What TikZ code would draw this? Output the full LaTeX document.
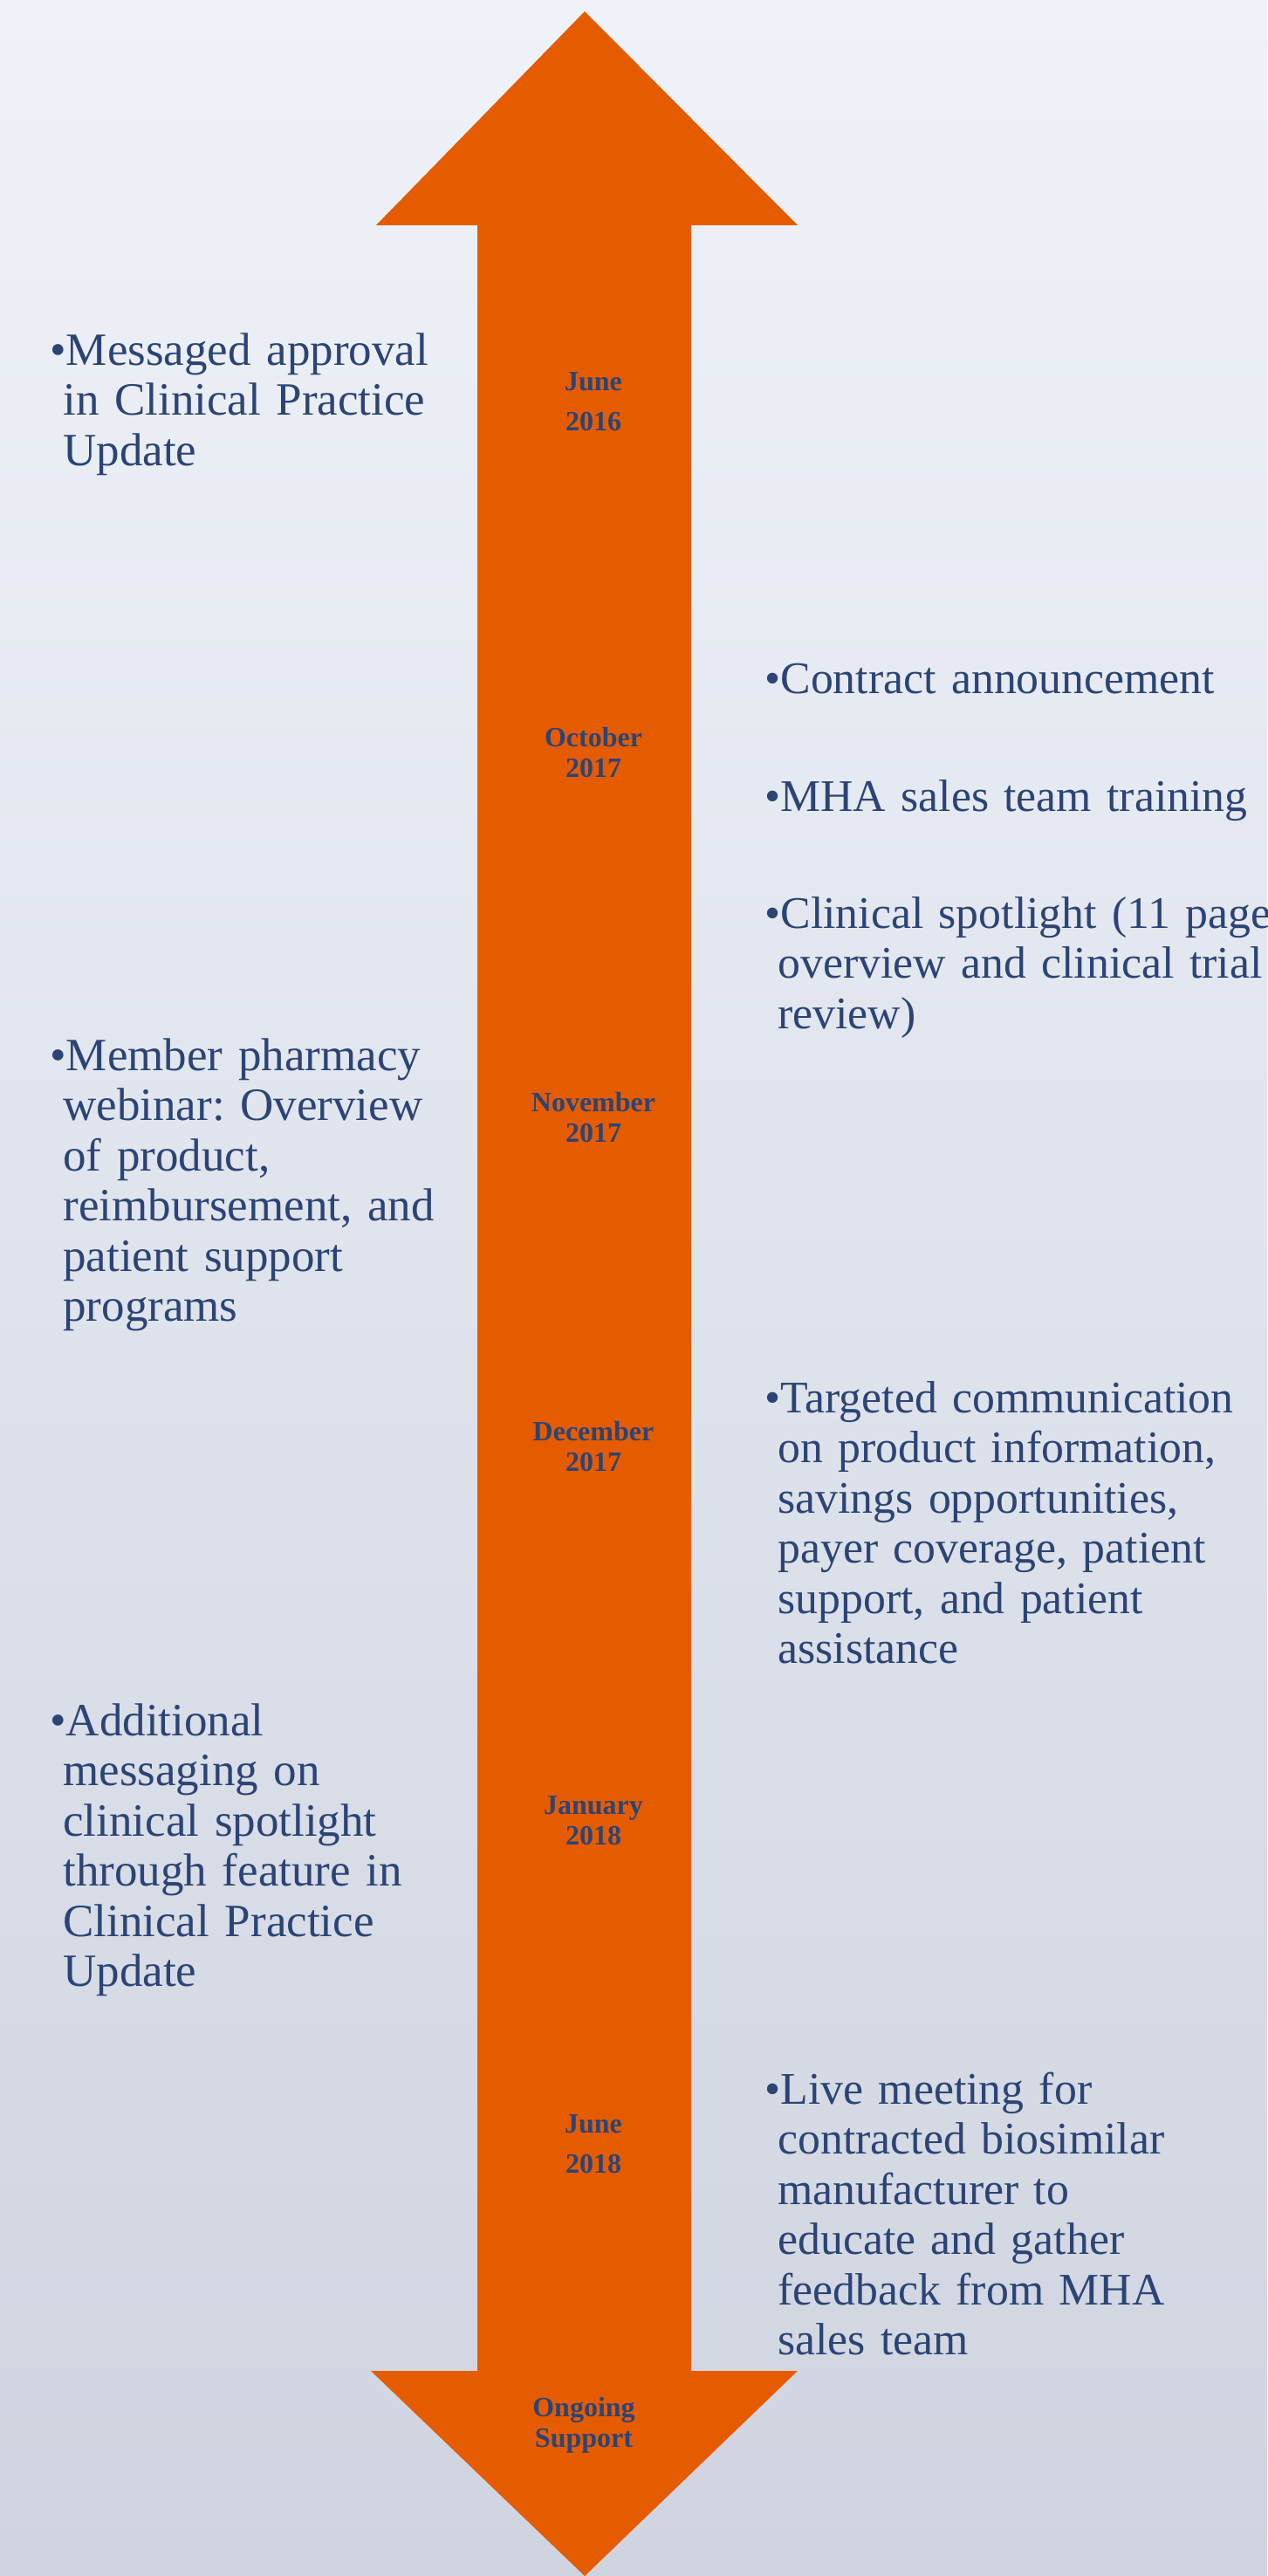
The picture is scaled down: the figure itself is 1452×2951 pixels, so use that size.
\documentclass[tikz,border=0pt]{standalone}
\usepackage{fontspec}
\setmainfont{Liberation Serif}
\definecolor{arroworange}{RGB}{229,92,0}
\definecolor{textblue}{RGB}{44,68,117}
\definecolor{bgtop}{RGB}{239,242,248}
\definecolor{bgbottom}{RGB}{207,212,224}
\tikzset{
  datelbl/.style={text=textblue, font=\bfseries\fontsize{16}{17.5}\selectfont, align=center, inner sep=0pt},
  bulletxt/.style={text=textblue, font=\fontsize{26.5}{28.75}\selectfont, text width=420pt, align=left, inner sep=0pt, anchor=base west},
  rightxt/.style={bulletxt, font=\fontsize{25.9}{28.75}\selectfont}
}
\newcommand{\bul}[1]{\leftskip=7.5pt\hspace*{-7.5pt}\textbullet#1\par}
\frenchspacing
\begin{document}
\begin{tikzpicture}[x=0.5pt,y=-0.5pt]
        \useasboundingbox (0,0) rectangle (1452,2951);
        \clip (0,0) rectangle (1452,2951);
        \shade[top color=bgtop, bottom color=bgbottom] (0,0) rectangle (1452,2951);
        \fill[arroworange] (670,13) -- (914,258) -- (792,258) -- (792,2716) -- (914,2716) -- (670,2951)
            -- (425,2716) -- (547,2716) -- (547,258) -- (431,258) -- cycle;
        \foreach \y/\nm/\when in {460/jun16/{June\\[5.5pt]2016}, 862/oct17/{October\\2017}, 1280/nov17/{November\\2017},
            1657/dec17/{December\\2017}, 2086/jan18/{January\\2018}, 2456/jun18/{June\\[5.5pt]2018}}
        \node[datelbl] (\nm) at (680,\y) {\when};
        \node[datelbl] (ongoing) at (669,2778) {Ongoing\\Support};
        \node[bulletxt] (approval) at (57,418) {\bul{Messaged approval\\in Clinical Practice\\Update}};
        \node[bulletxt] (webinar) at (57,1226) {\bul{Member pharmacy\\webinar: Overview\\of product,\\reimbursement, and\\patient support\\programs}};
        \node[bulletxt] (feature) at (57,1988) {\bul{Additional\\messaging on\\clinical spotlight\\through feature in\\Clinical Practice\\Update}};
        \node[rightxt] (contract) at (876,794) {\bul{Contract announcement}};
        \node[rightxt] (training) at (876,929) {\bul{MHA sales team training}};
        \node[rightxt] (spotlight) at (876,1063) {\bul{Clinical spotlight (11 page\\overview and clinical trial\\review)}};
        \node[rightxt] (targeted) at (876,1618) {\bul{Targeted communication\\on product information,\\savings opportunities,\\payer coverage, patient\\support, and patient\\assistance}};
        \node[rightxt] (meeting) at (876,2410) {\bul{Live meeting for\\contracted biosimilar\\manufacturer to\\educate and gather\\feedback from MHA\\sales team}};
    \end{tikzpicture}
\end{document}
